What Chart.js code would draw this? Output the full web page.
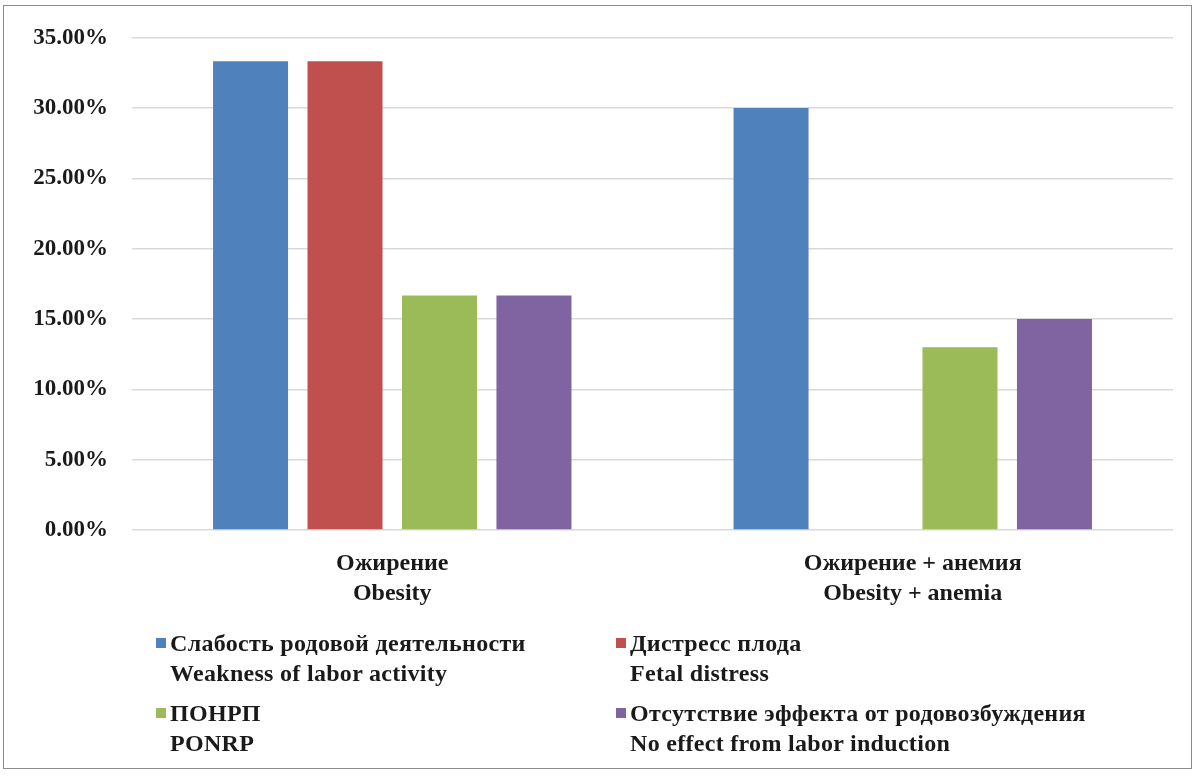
<!DOCTYPE html>
<html>
<head>
<meta charset="utf-8">
<script src="https://cdn.jsdelivr.net/npm/chart.js@4/dist/chart.umd.min.js"></script>
<style>
  html, body { margin: 0; padding: 0; background: #fff; }
  #wrap { position: relative; width: 1200px; height: 777px; overflow: hidden; }
  #frame { position: absolute; left: 3px; top: 5px; width: 1189px; height: 764px; border: 1px solid #8c8c8c; box-sizing: border-box; pointer-events: none; }
  canvas { position: absolute; left: 0; top: 0; }
  #legend { position: absolute; left: 156px; top: 628px; display: grid; grid-template-columns: 460px 460px; row-gap: 10px;
            font-family: "Liberation Serif", "Times New Roman", serif; font-weight: bold; font-size: 24px; letter-spacing: 0.3px; color: #1a1a1a; }
  .item { display: flex; align-items: flex-start; }
  .sw { width: 10px; height: 10px; margin-top: 10px; margin-right: 4px; flex: none; }
  .txt { line-height: 30px; white-space: nowrap; }
</style>
</head>
<body>
<div id="wrap">
  <canvas id="c" width="1200" height="777"></canvas>
  <div id="legend"></div>
  <div id="frame"></div>
</div>
<script>
const categories = [["Ожирение", "Obesity"], ["Ожирение + анемия", "Obesity + anemia"]];
const seriesNames = [
  ["Слабость родовой деятельности", "Weakness of labor activity"],
  ["Дистресс плода", "Fetal distress"],
  ["ПОНРП", "PONRP"],
  ["Отсутствие эффекта от родовозбуждения", "No effect from labor induction"]
];
const weakness = [33.33, 30.0];
const fetalDistress = [33.33, 0];
const ponrp = [16.67, 13.0];
const noEffect = [16.67, 15.0];
const colors = ["#4F81BD", "#C0504D", "#9BBB59", "#8064A2"];
const yTicks = [0, 5, 10, 15, 20, 25, 30, 35];

const seriesValues = [weakness, fetalDistress, ponrp, noEffect];
const fontFamily = '"Liberation Serif", "Times New Roman", serif';

const chart = new Chart(document.getElementById('c'), {
  type: 'bar',
  data: {
    labels: categories,
    datasets: seriesValues.map((vals, i) => ({
      label: seriesNames[i].join(' / '),
      data: vals,
      backgroundColor: colors[i],
      borderWidth: 0,
      categoryPercentage: 0.726,
      barPercentage: 0.794
    }))
  },
  options: {
    responsive: false,
    animation: false,
    devicePixelRatio: 1,
    layout: { padding: { left: 0, right: 27, top: 37, bottom: 0 } },
    plugins: { legend: { display: false }, tooltip: { enabled: false } },
    scales: {
      x: {
        grid: { display: false, drawTicks: false },
        border: { display: false },
        ticks: {
          padding: 19,
          color: '#1a1a1a',
          font: { family: fontFamily, size: 24, weight: 'bold', lineHeight: '30px' },
          maxRotation: 0
        },
        afterFit: (s) => { s.height = 247; }
      },
      y: {
        min: 0, max: 35,
        afterBuildTicks: (s) => { s.ticks = yTicks.map(v => ({ value: v })); },
        grid: { color: '#d9d9d9', lineWidth: 1.5, drawTicks: false },
        border: { display: false },
        ticks: {
          padding: 24,
          color: '#1a1a1a',
          font: { family: fontFamily, size: 23, weight: 'bold' },
          callback: (v) => v.toFixed(2) + '%'
        },
        afterFit: (s) => { s.width = 132; }
      }
    }
  }
});

const legend = document.getElementById('legend');
chart.data.datasets.forEach((ds, i) => {
  const item = document.createElement('div');
  item.className = 'item';
  const sw = document.createElement('div');
  sw.className = 'sw';
  sw.style.background = ds.backgroundColor;
  const txt = document.createElement('div');
  txt.className = 'txt';
  seriesNames[i].forEach((line) => {
    const d = document.createElement('div');
    d.textContent = line;
    txt.appendChild(d);
  });
  item.appendChild(sw);
  item.appendChild(txt);
  legend.appendChild(item);
});
</script>
</body>
</html>
